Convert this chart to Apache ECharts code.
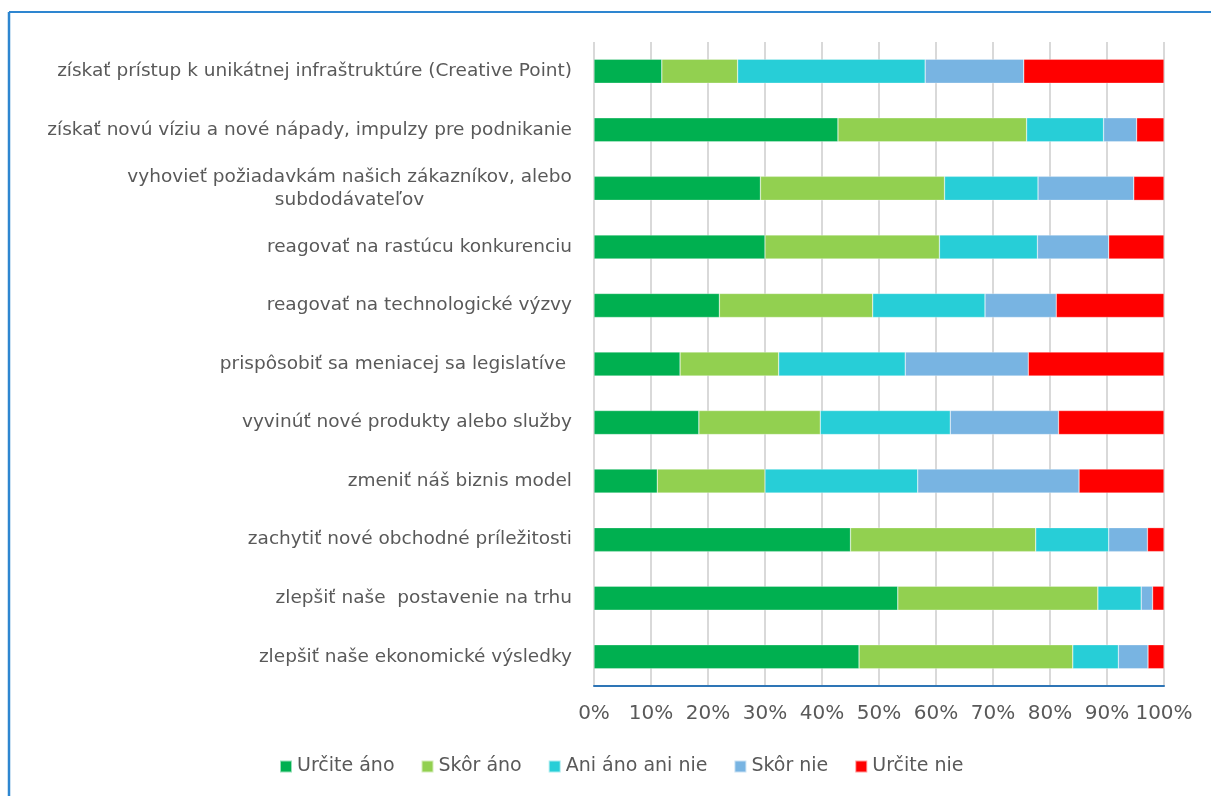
<!DOCTYPE html>
<html>
<head>
<meta charset="utf-8">
<script src="https://cdn.jsdelivr.net/npm/echarts@6/dist/echarts.min.js"></script>
<style>
  html, body { margin: 0; padding: 0; background: #fff; }
  #chart { width: 1211px; height: 796px; }
</style>
</head>
<body>
<div id="chart"></div>
<script>
// categories, top to bottom
const categories = [
  'získať prístup k unikátnej infraštruktúre (Creative Point)',
  'získať novú víziu a nové nápady, impulzy pre podnikanie',
  'vyhovieť požiadavkám našich zákazníkov, alebo subdodávateľov',
  'reagovať na rastúcu konkurenciu',
  'reagovať na technologické výzvy',
  'prispôsobiť sa meniacej sa legislatíve ',
  'vyvinúť nové produkty alebo služby',
  'zmeniť náš biznis model',
  'zachytiť nové obchodné príležitosti',
  'zlepšiť naše  postavenie na trhu',
  'zlepšiť naše ekonomické výsledky'
];

const seriesNames = ['Určite áno', 'Skôr áno', 'Ani áno ani nie', 'Skôr nie', 'Určite nie'];

// shares in %
const urciteAno = [11.9, 42.8, 29.2, 30.0, 22.0, 15.1, 18.4, 11.1, 45.0, 53.3, 46.5];
const skorAno   = [13.3, 33.1, 32.3, 30.6, 26.9, 17.3, 21.3, 18.9, 32.5, 35.1, 37.5];
const aniAnoAni = [32.9, 13.5, 16.4, 17.2, 19.7, 22.2, 22.8, 26.8, 12.8,  7.6,  8.0];
const skorNie   = [17.3,  5.8, 16.8, 12.5, 12.5, 21.6, 19.0, 28.3,  6.8,  2.0,  5.2];
const urciteNie = [24.6,  4.8,  5.3,  9.7, 18.9, 23.8, 18.5, 14.9,  2.9,  2.0,  2.8];

const colors = ['#00b050', '#92d050', '#27ced7', '#78b4e2', '#ff0000'];
const textColor = '#595959';
const font = 'DejaVu Sans';
const labelSize = 18.5;

// the long label wraps on two lines, centred like in excel
const wrapFirst = 'vyhovieť požiadavkám našich zákazníkov, alebo';
const wrapSecond = 'subdodávateľov';
const ctx = document.createElement('canvas').getContext('2d');
ctx.font = labelSize + 'px "' + font + '"';
const wrapWidth = Math.ceil(ctx.measureText(wrapFirst).width);

const myChart = echarts.init(document.getElementById('chart'));

const series = [urciteAno, skorAno, aniAnoAni, skorNie, urciteNie].map((d, i) => ({
  name: seriesNames[i],
  type: 'bar',
  stack: 'total',
  data: d,
  barWidth: 24,
  itemStyle: {
    color: colors[i],
    borderColor: 'rgba(255,255,255,0.6)',
    borderWidth: 0.5
  }
}));

const option = {
  animation: false,
  color: colors,
  textStyle: { fontFamily: font },
  grid: {
    left: 594,
    right: 47,
    top: 42,
    bottom: 110,
    containLabel: false
  },
  legend: {
    left: 274,
    top: 752,
    itemWidth: 12,
    itemHeight: 12,
    itemGap: 26,
    icon: 'rect',
    textStyle: { color: textColor, fontSize: 19, fontFamily: font },
    data: seriesNames
  },
  xAxis: {
    type: 'value',
    min: 0,
    max: 100,
    interval: 10,
    axisLine: { show: true, lineStyle: { color: '#2e75b6', width: 2 } },
    axisTick: { show: false },
    axisLabel: {
      margin: 18,
      color: textColor,
      fontSize: 20,
      fontFamily: font,
      formatter: '{value}%'
    },
    splitLine: { show: true, lineStyle: { color: '#d9d9d9', width: 2 } }
  },
  yAxis: {
    type: 'category',
    inverse: true,
    data: categories,
    axisLine: { show: false },
    axisTick: { show: false },
    axisLabel: {
      margin: 22,
      color: textColor,
      fontSize: labelSize,
      fontFamily: font,
      formatter: function (v) {
        if (v.indexOf('vyhovieť') === 0) {
          return '{c|' + wrapFirst + '}\n{c|' + wrapSecond + '}';
        }
        return v;
      },
      rich: {
        c: {
          width: wrapWidth,
          align: 'center',
          color: textColor,
          fontSize: labelSize,
          fontFamily: font,
          lineHeight: 23
        }
      }
    }
  },
  graphic: [
    {
      type: 'line',
      shape: { x1: 9, y1: 12, x2: 1211, y2: 12 },
      style: { stroke: '#2e86d0', lineWidth: 2 }
    },
    {
      type: 'line',
      shape: { x1: 9, y1: 12, x2: 9, y2: 796 },
      style: { stroke: '#2e86d0', lineWidth: 2.5 }
    }
  ],
  series: series
};

myChart.setOption(option);
</script>
</body>
</html>
